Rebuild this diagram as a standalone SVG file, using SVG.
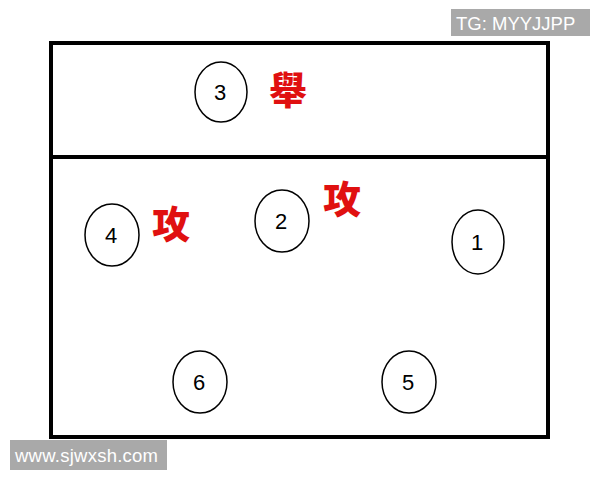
<svg xmlns="http://www.w3.org/2000/svg" width="600" height="480" viewBox="0 0 600 480">
<style>
.p ellipse{fill:#fff;stroke:#000;stroke-width:1.5}
.p text{font-family:"Liberation Sans","DejaVu Sans",sans-serif;font-size:22px;fill:#000;text-anchor:middle}
.r{font-family:"Noto Sans CJK TC","Noto Sans CJK SC",sans-serif;font-weight:900;font-size:38px;fill:#e01010;text-anchor:middle}
.wm{fill:#a9a9a9}
.wt{font-family:"Liberation Sans","DejaVu Sans",sans-serif;font-size:18.5px;fill:#fff}
</style>
<rect width="600" height="480" fill="#fff"/>
<g id="court">
<rect x="51" y="43" width="497" height="394" fill="#fff" stroke="#000" stroke-width="4"/>
<line x1="51" y1="157" x2="548" y2="157" stroke="#000" stroke-width="4"/>
</g>
<g id="p3" class="p"><ellipse cx="221" cy="92" rx="26" ry="30"/><text x="220" y="100">3</text></g>
<g id="p2" class="p"><ellipse cx="282" cy="221" rx="27" ry="31"/><text x="281" y="229">2</text></g>
<g id="p4" class="p"><ellipse cx="112" cy="235" rx="27" ry="31"/><text x="111" y="243">4</text></g>
<g id="p1" class="p"><ellipse cx="478" cy="242" rx="26" ry="32"/><text x="477" y="250">1</text></g>
<g id="p6" class="p"><ellipse cx="200" cy="382" rx="27" ry="31"/><text x="199" y="390">6</text></g>
<g id="p5" class="p"><ellipse cx="409" cy="382" rx="27" ry="31"/><text x="408" y="390">5</text></g>
<g id="labels">
<text class="r" x="288" y="104">舉</text>
<text class="r" x="171" y="238">攻</text>
<text class="r" x="342" y="213">攻</text>
</g>
<g id="wm1"><rect class="wm" x="451" y="9" width="139" height="27"/><text class="wt" x="456" y="30">TG: MYYJJPP</text></g>
<g id="wm2"><rect class="wm" x="10" y="440" width="157" height="30"/><text class="wt" x="15" y="462" textLength="143">www.sjwxsh.com</text></g>
</svg>
